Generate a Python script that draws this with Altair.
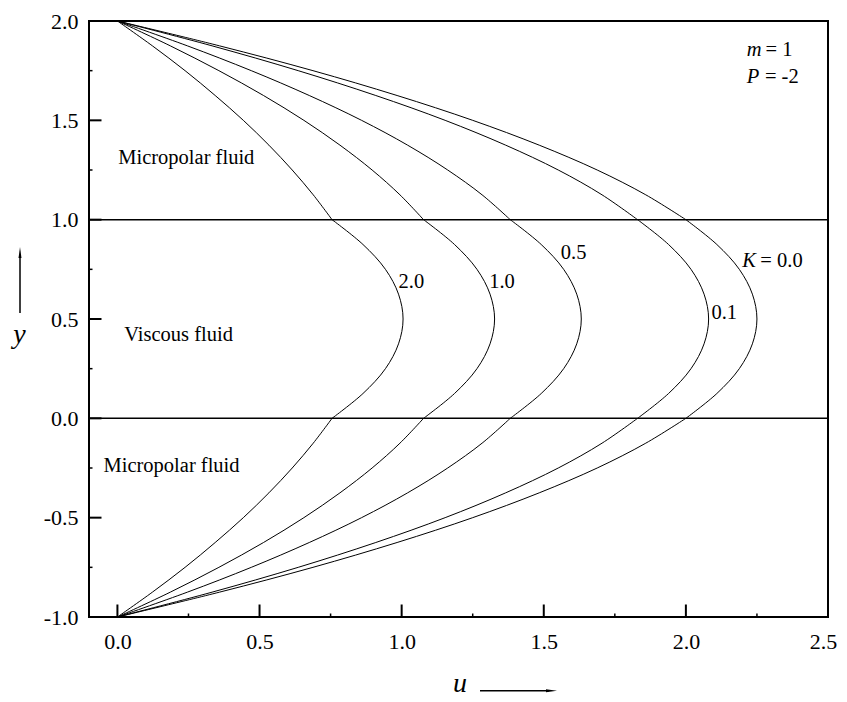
import altair as alt
import pandas as pd

# ---- data ----
Y_LEVELS = [-1.0, -0.875, -0.75, -0.625, -0.5, -0.375, -0.25, -0.125, 0.0,
            0.125, 0.25, 0.375, 0.5, 0.625, 0.75, 0.875, 1.0,
            1.125, 1.25, 1.375, 1.5, 1.625, 1.75, 1.875, 2.0]
U_K00 = [0.0, 0.359, 0.688, 0.984, 1.25, 1.484, 1.688, 1.859, 2.0,
         2.109, 2.188, 2.234, 2.25, 2.234, 2.188, 2.109, 2.0,
         1.859, 1.688, 1.484, 1.25, 0.984, 0.688, 0.359, 0.0]
U_K01 = [0.0, 0.333, 0.636, 0.909, 1.153, 1.366, 1.551, 1.705, 1.83,
         1.939, 2.018, 2.064, 2.08, 2.064, 2.018, 1.939, 1.83,
         1.705, 1.551, 1.366, 1.153, 0.909, 0.636, 0.333, 0.0]
U_K05 = [0.0, 0.246, 0.471, 0.675, 0.859, 1.021, 1.162, 1.283, 1.382,
         1.491, 1.570, 1.616, 1.632, 1.616, 1.570, 1.491, 1.382,
         1.283, 1.162, 1.021, 0.859, 0.675, 0.471, 0.246, 0.0]
U_K10 = [0.0, 0.186, 0.357, 0.514, 0.656, 0.783, 0.896, 0.994, 1.077,
         1.186, 1.265, 1.311, 1.327, 1.311, 1.265, 1.186, 1.077,
         0.994, 0.896, 0.783, 0.656, 0.514, 0.357, 0.186, 0.0]
U_K20 = [0.0, 0.123, 0.238, 0.344, 0.443, 0.533, 0.615, 0.689, 0.755,
         0.864, 0.943, 0.989, 1.005, 0.989, 0.943, 0.864, 0.755,
         0.689, 0.615, 0.533, 0.443, 0.344, 0.238, 0.123, 0.0]
K_NAMES = ["0.0", "0.1", "0.5", "1.0", "2.0"]
K_SERIES = [U_K00, U_K01, U_K05, U_K10, U_K20]

INTERFACES = [0.0, 1.0]
X_MAJOR = [0.0, 0.5, 1.0, 1.5, 2.0, 2.5]
X_MINOR = [0.25, 0.75, 1.25, 1.75, 2.25]
Y_MAJOR = [-1.0, -0.5, 0.0, 0.5, 1.0, 1.5, 2.0]
Y_MINOR = [-0.75, -0.25, 0.25, 0.75, 1.25, 1.75]

# annotation texts (upright)
TXT_TEXT = ["Micropolar fluid", "Viscous fluid", "Micropolar fluid",
            "2.0", "1.0", "0.5", "0.1", "= 0.0", "= 1", "= -2"]
TXT_U = [0.003, 0.024, -0.049, 0.989, 1.308, 1.56, 2.09, 2.262, 2.28, 2.278]
TXT_Y = [1.28, 0.39, -0.272, 0.655, 0.655, 0.803, 0.5, 0.76, 1.825, 1.687]
# annotation texts (italic)
ITX_TEXT = ["K", "m", "P"]
ITX_U = [2.198, 2.214, 2.214]
ITX_Y = [0.76, 1.825, 1.687]

W, H = 739, 596
FONT = "Liberation Serif"

rows = []
segments = [(0, 8, "lower"), (8, 16, "visc"), (16, 24, "upper")]
for name, us in zip(K_NAMES, K_SERIES):
    for a, b, seg in segments:
        for i in range(a, b + 1):
            rows.append({"K": name, "seg": name + seg, "i": i,
                         "u": us[i], "y": Y_LEVELS[i]})
curves = pd.DataFrame(rows)

xs = alt.Scale(domain=[-0.1, 2.5], nice=False, zero=False)
ys = alt.Scale(domain=[-1.0, 2.0], nice=False, zero=False)

LABEL_EXPR = "(datum.value < 0 ? '-' : '') + format(abs(datum.value), '.1f')"

x_axis = alt.Axis(values=X_MAJOR, labelExpr=LABEL_EXPR, ticks=False, domain=False,
                  grid=False, labelFont=FONT, labelFontSize=22,
                  labelColor="black", labelPadding=14, labelFlush=False,
                  labelOverlap=False, title=None,
                  labelOffset={"condition": {"test": "datum.value >= 2.5", "value": -5},
                               "value": 0})
y_axis = alt.Axis(values=Y_MAJOR, labelExpr=LABEL_EXPR, ticks=False, domain=False,
                  grid=False, labelFont=FONT, labelFontSize=22,
                  labelColor="black", labelPadding=11, labelFlush=False,
                  labelOverlap=False, title=None)


def X(field):
    return alt.X(field, scale=xs, axis=x_axis)


def Y(field):
    return alt.Y(field, scale=ys, axis=y_axis)


lines = alt.Chart(curves).mark_line(
    color="black", strokeWidth=1, interpolate="catmull-rom"
).encode(x=X("u:Q"), y=Y("y:Q"), detail="seg:N", order="i:Q")

iface = alt.Chart(pd.DataFrame({"y": INTERFACES})).mark_rule(
    color="black", strokeWidth=1.5
).encode(y=Y("y:Q"))

xmaj = alt.Chart(pd.DataFrame({"v": X_MAJOR})).mark_rule(
    color="black", strokeWidth=2
).encode(x=X("v:Q"), y=alt.value(H - 12.5), y2=alt.value(H))
xmin = alt.Chart(pd.DataFrame({"v": X_MINOR})).mark_rule(
    color="black", strokeWidth=1.5
).encode(x=X("v:Q"), y=alt.value(H - 3.5), y2=alt.value(H))
ymaj = alt.Chart(pd.DataFrame({"v": Y_MAJOR})).mark_rule(
    color="black", strokeWidth=2
).encode(y=Y("v:Q"), x=alt.value(0), x2=alt.value(12.5))
ymin = alt.Chart(pd.DataFrame({"v": Y_MINOR})).mark_rule(
    color="black", strokeWidth=1.5
).encode(y=Y("v:Q"), x=alt.value(0), x2=alt.value(3.5))

txt = alt.Chart(pd.DataFrame({"t": TXT_TEXT, "u": TXT_U, "y": TXT_Y})).mark_text(
    font=FONT, fontSize=20.5, color="black", align="left", baseline="alphabetic"
).encode(x=X("u:Q"), y=Y("y:Q"), text="t:N")
itx = alt.Chart(pd.DataFrame({"t": ITX_TEXT, "u": ITX_U, "y": ITX_Y})).mark_text(
    font=FONT, fontSize=20.5, fontStyle="italic", color="black",
    align="left", baseline="alphabetic"
).encode(x=X("u:Q"), y=Y("y:Q"), text="t:N")

# axis titles with arrows (outside the plot area)
one = pd.DataFrame({"k": [0]})
ytitle = alt.Chart(one).mark_text(
    font=FONT, fontSize=28, fontStyle="italic", color="black",
    align="center", baseline="alphabetic", text="y"
).encode(x=alt.value(-69.5), y=alt.value(321.5))
yarrow = alt.Chart(one).mark_rule(color="black", strokeWidth=1.5).encode(
    x=alt.value(-69), y=alt.value(292), y2=alt.value(234))
yhead = alt.Chart(one).mark_point(
    shape="M0,-1L0.27,1L-0.27,1Z", size=121, filled=True, color="black", opacity=1
).encode(x=alt.value(-69), y=alt.value(231.5))
xtitle = alt.Chart(one).mark_text(
    font=FONT, fontSize=28, fontStyle="italic", color="black",
    align="center", baseline="alphabetic", text="u"
).encode(x=alt.value(371), y=alt.value(670.5))
xarrow = alt.Chart(one).mark_rule(color="black", strokeWidth=1.5).encode(
    x=alt.value(391), x2=alt.value(460), y=alt.value(669.7))
xhead = alt.Chart(one).mark_point(
    shape="M1,0L-1,-0.27L-1,0.27Z", size=121, filled=True, color="black", opacity=1
).encode(x=alt.value(462.5), y=alt.value(669.7))

chart = alt.layer(
    lines, iface, xmaj, xmin, ymaj, ymin, txt, itx,
    ytitle, yarrow, yhead, xtitle, xarrow, xhead
).properties(
    width=W, height=H,
    autosize=alt.AutoSizeParams(type="none"),
    padding={"left": 81, "top": 13, "right": 11, "bottom": 80},
    background="white",
).configure_view(stroke="black", strokeWidth=2)

chart.save("out.html", embed_options={"renderer": "svg", "actions": False})
